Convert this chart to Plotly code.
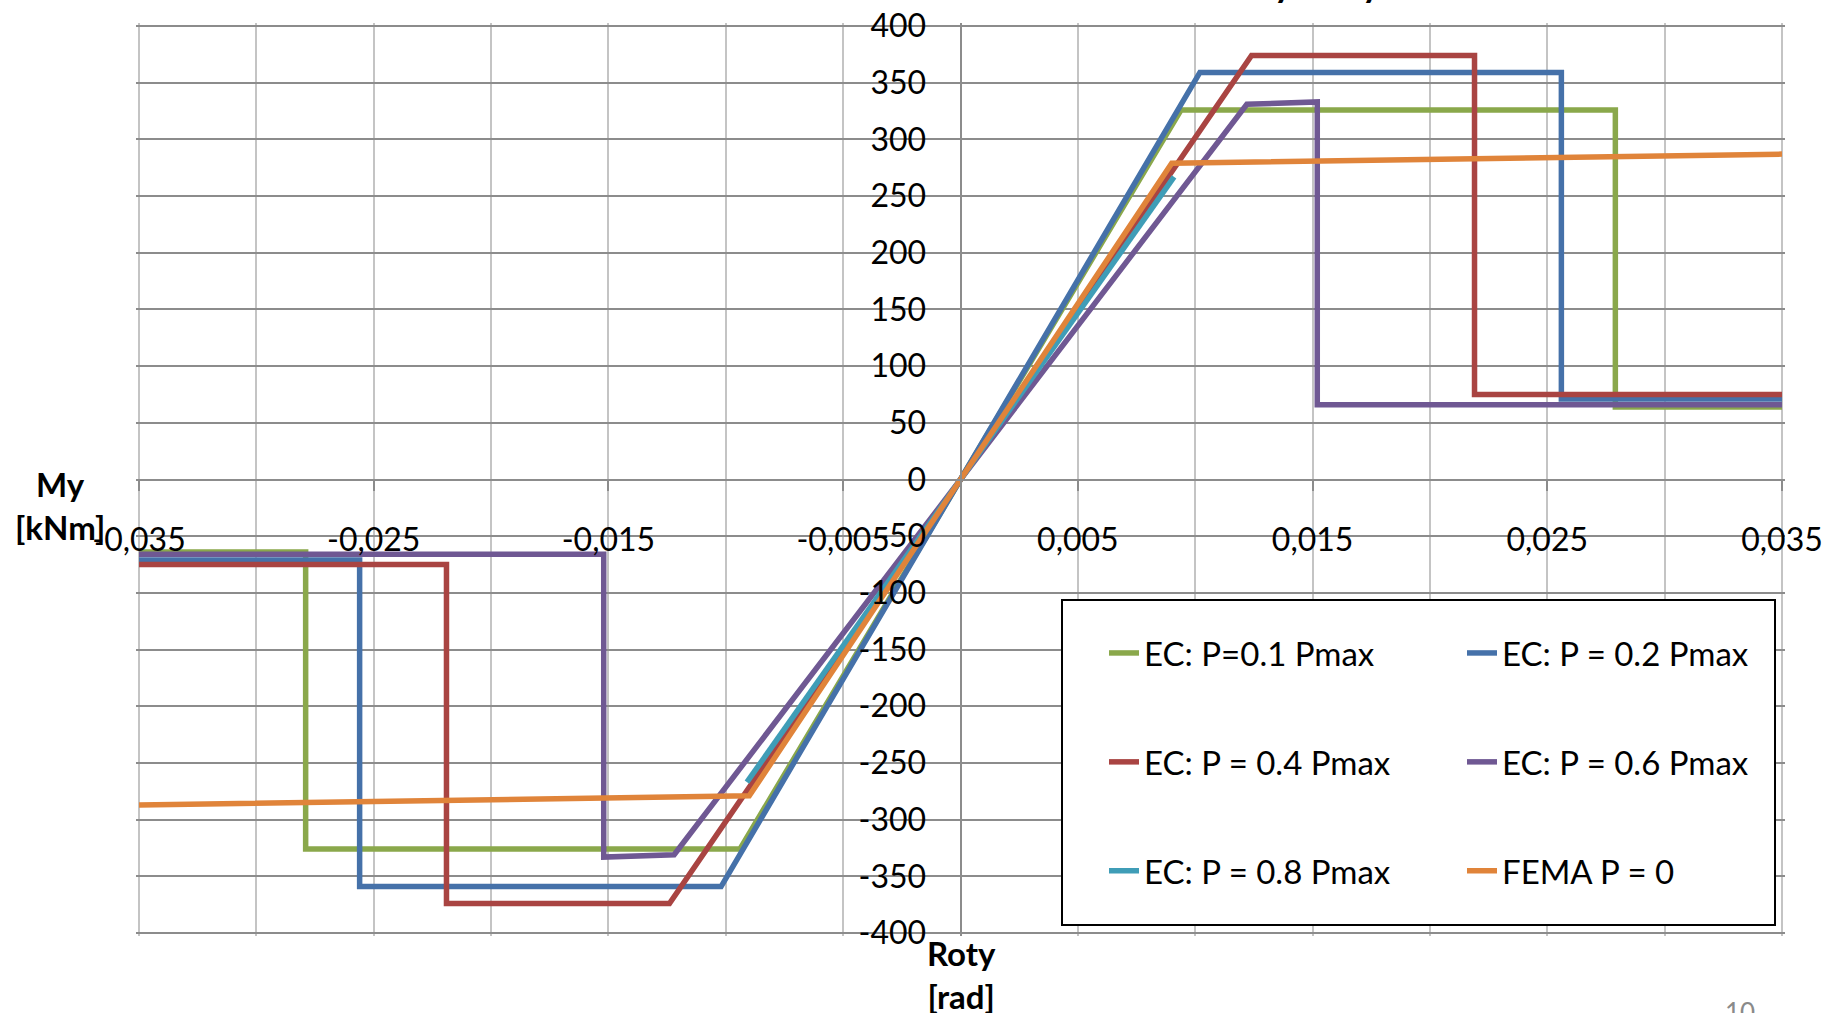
import plotly.graph_objects as go

# Moment-rotation envelopes (rotation in rad, moment in kNm)
rot_p01 = [-0.035, -0.0279, -0.0279, -0.0094, 0.0, 0.0094, 0.0279, 0.0279, 0.035]
my_p01 = [-64, -64, -326, -326, 0, 326, 326, 64, 64]

rot_p02 = [-0.035, -0.0256, -0.0256, -0.0102, 0.0, 0.0102, 0.0256, 0.0256, 0.035]
my_p02 = [-71, -71, -359, -359, 0, 359, 359, 71, 71]

rot_p04 = [-0.035, -0.0219, -0.0219, -0.0124, 0.0, 0.0124, 0.0219, 0.0219, 0.035]
my_p04 = [-75, -75, -374, -374, 0, 374, 374, 75, 75]

rot_p06 = [-0.035, -0.0152, -0.0152, -0.0122, 0.0, 0.0122, 0.0152, 0.0152, 0.035]
my_p06 = [-66, -66, -333, -331, 0, 331, 333, 66, 66]

rot_p08 = [-0.0091, 0.0, 0.0091]
my_p08 = [-267, 0, 267]

rot_fema = [-0.035, -0.009, 0.0, 0.009, 0.035]
my_fema = [-287, -279, 0, 279, 287]

series_names = ["EC: P=0.1 Pmax", "EC: P = 0.2 Pmax", "EC: P = 0.4 Pmax",
                "EC: P = 0.6 Pmax", "EC: P = 0.8 Pmax", "FEMA P = 0"]
series_colors = ["#8AA84B", "#4571A9", "#A94442", "#6F5893", "#3F9DB7", "#E0843A"]

x_tick_vals = [-0.035, -0.025, -0.015, -0.005, 0.005, 0.015, 0.025, 0.035]
x_tick_text = ["-0,035", "-0,025", "-0,015", "-0,005", "0,005", "0,015", "0,025", "0,035"]
y_tick_vals = list(range(-400, 401, 50))
y_tick_text = [str(v) for v in y_tick_vals]

X_MIN, X_MAX = -0.035, 0.035
Y_MIN, Y_MAX = -400, 400

FONT = "Lato"
W, H = 1830, 1013
# pixel box of the nominal data range
BOX_L, BOX_R, BOX_T, BOX_B = 139, 1782, 26, 933
# the axis range is padded by a couple of pixels so the outermost gridlines get drawn
PAD = 3
x_pad = PAD * (X_MAX - X_MIN) / (BOX_R - BOX_L)
y_pad = PAD * (Y_MAX - Y_MIN) / (BOX_B - BOX_T)
ML, MR = BOX_L - PAD, W - BOX_R - PAD
MT, MB = BOX_T - PAD, H - BOX_B - PAD
PW, PH = W - ML - MR, H - MT - MB


def px_x(px):
    return (px - ML) / PW


def px_y(py):
    return (H - MB - py) / PH


fig = go.Figure()

data = [(rot_p01, my_p01), (rot_p02, my_p02), (rot_p04, my_p04),
        (rot_p06, my_p06), (rot_p08, my_p08), (rot_fema, my_fema)]
legend_ids = ["legend", "legend2", "legend", "legend2", "legend", "legend2"]

for i, (xs, ys) in enumerate(data):
    fig.add_trace(go.Scatter(
        x=xs, y=ys, mode="lines", name=series_names[i],
        line=dict(color=series_colors[i], width=5.5),
        legend=legend_ids[i], legendgroup=f"g{i}",
    ))

grid_v = "#C4C4C4"
grid_h = "#8C8C8C"

fig.update_layout(
    width=W, height=H,
    margin=dict(l=ML, r=MR, t=MT, b=MB, autoexpand=False),
    paper_bgcolor="white", plot_bgcolor="white",
    font=dict(family=FONT, size=32, color="black"),
    xaxis=dict(
        range=[X_MIN - x_pad, X_MAX + x_pad], anchor="free", position=0.5,
        automargin=False,
        tickmode="array", tickvals=x_tick_vals, ticktext=x_tick_text,
        showgrid=True, gridcolor=grid_v, gridwidth=2,
        minor=dict(tick0=-0.035, dtick=0.005, showgrid=True,
                   gridcolor=grid_v, gridwidth=2),
        showline=True, linecolor=grid_h, linewidth=2,
        ticks="outside", ticklen=10, tickwidth=2, tickcolor=grid_h,
        ticklabelstandoff=22, zeroline=False,
        tickfont=dict(family=FONT, size=32, color="black"),
    ),
    yaxis=dict(
        range=[Y_MIN - y_pad, Y_MAX + y_pad], anchor="free", position=0.5,
        side="left", automargin=False,
        tickmode="array", tickvals=y_tick_vals, ticktext=y_tick_text,
        showgrid=True, gridcolor=grid_h, gridwidth=2,
        showline=True, linecolor=grid_h, linewidth=2,
        ticks="outside", ticklen=10, tickwidth=2, tickcolor=grid_h,
        ticklabelstandoff=17, zeroline=False,
        tickfont=dict(family=FONT, size=32, color="black"),
    ),
    legend=dict(
        x=px_x(1104), y=px_y(625), xanchor="left", yanchor="top",
        bgcolor="rgba(0,0,0,0)", borderwidth=0, tracegroupgap=63,
        font=dict(family=FONT, size=33, color="black"),
    ),
    legend2=dict(
        x=px_x(1462), y=px_y(625), xanchor="left", yanchor="top",
        bgcolor="rgba(0,0,0,0)", borderwidth=0, tracegroupgap=63,
        font=dict(family=FONT, size=33, color="black"),
    ),
    shapes=[dict(
        type="rect", xref="paper", yref="paper", layer="above",
        x0=px_x(1062), x1=px_x(1775), y0=px_y(925), y1=px_y(600),
        fillcolor="white", line=dict(color="black", width=2),
    )],
    annotations=[
        dict(text="<b>My</b><br><b>[kNm]</b>", xref="paper", yref="paper",
             x=px_x(60), y=px_y(505), xanchor="center", yanchor="middle",
             showarrow=False, font=dict(family=FONT, size=33, color="black")),
        dict(text="<b>Roty</b><br><b>[rad]</b>", xref="paper", yref="paper",
             x=px_x(961), y=px_y(974), xanchor="center", yanchor="middle",
             showarrow=False, font=dict(family=FONT, size=33, color="black")),
        dict(text="<b>My-Roty</b>", xref="paper", yref="paper",
             x=px_x(1383), y=px_y(-17), xanchor="right", yanchor="middle",
             showarrow=False, font=dict(family=FONT, size=36, color="black")),
        dict(text="10", xref="paper", yref="paper",
             x=px_x(1740), y=px_y(994), xanchor="center", yanchor="top",
             showarrow=False, font=dict(family=FONT, size=26, color="#8A8A8A")),
    ],
)

fig.write_html("out.html")
